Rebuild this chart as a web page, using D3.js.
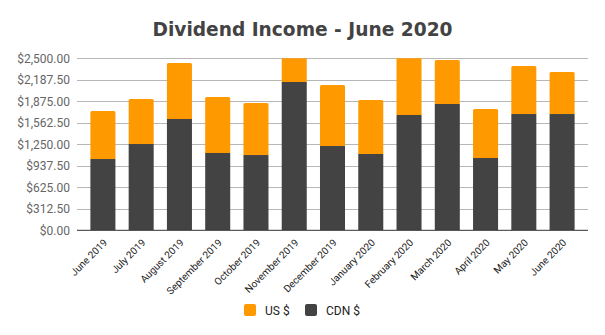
<!DOCTYPE html>
<html><head><meta charset="utf-8">
<script src="https://cdn.jsdelivr.net/npm/d3@7"></script>
<style>body{margin:0;background:#fff}svg{display:block}</style>
</head><body>
<svg id="c" width="605" height="335"></svg>
<script>
const categories = ["June 2019","July 2019","August 2019","September 2019","October 2019","November 2019","December 2019","January 2020","February 2020","March 2020","April 2020","May 2020","June 2020"];
const cdnValues = [1036,1254,1618,1124,1094,2156,1225,1109,1676,1836,1051,1690,1690];
const usValues  = [698,654,814,813,756,500,887,785,900,639,712,698,611];
const yTicks = [0,312.5,625,937.5,1250,1562.5,1875,2187.5,2500];
const seriesNames = ["US $","CDN $"];
const colors = {us:"#ff9900", cdn:"#434343"};

const svg = d3.select("#c");
const m = {l:77, r:588, t:58.3, b:230.3};

const x = d3.scaleBand().domain(categories).range([m.l, m.r]).paddingInner(0.346).paddingOuter(0.35);
const y = d3.scaleLinear().domain([0,2500]).range([m.b, m.t]);

svg.append("text").attr("x",302.5).attr("y",36).attr("text-anchor","middle")
  .attr("font-family","Verdana, 'DejaVu Sans', sans-serif").attr("font-weight","bold")
  .attr("font-size",18.6).attr("fill","#434343").text("Dividend Income - June 2020");

// gridlines
svg.append("g").selectAll("line").data(yTicks.filter(d=>d>0)).join("line")
  .attr("x1",m.l).attr("x2",m.r).attr("y1",d=>Math.round(y(d))+0.5).attr("y2",d=>Math.round(y(d))+0.5)
  .attr("stroke","#b7b7b7").attr("stroke-width",1);

const fmt = d3.format("$,.2f");
const yAxis = svg.append("g").attr("transform",`translate(${m.l},0)`)
  .call(d3.axisLeft(y).tickValues(yTicks).tickFormat(fmt).tickSize(0).tickPadding(7));
yAxis.select(".domain").remove();
yAxis.selectAll("text").attr("font-family","Roboto, sans-serif").attr("font-size",12).attr("fill","#666");

svg.append("defs").append("clipPath").attr("id","clip").append("rect")
  .attr("x",m.l).attr("y",m.t).attr("width",m.r-m.l).attr("height",m.b-m.t);

const data = categories.map((c,i)=>({c, cdn:cdnValues[i], us:usValues[i]}));
const bars = svg.append("g").attr("clip-path","url(#clip)");
const bw = x.bandwidth();
function topRounded(x0,y0,w,h,r){
  return `M${x0},${y0+h}V${y0+r}Q${x0},${y0} ${x0+r},${y0}H${x0+w-r}Q${x0+w},${y0} ${x0+w},${y0+r}V${y0+h}Z`;
}
bars.selectAll("path.us").data(data).join("path").attr("class","us")
  .attr("d",d=>{const y0=y(d.cdn+d.us), y1=y(d.cdn); return topRounded(x(d.c),y0,bw,y1-y0,1.5);})
  .attr("fill",colors.us);
bars.selectAll("rect.cdn").data(data).join("rect").attr("class","cdn")
  .attr("x",d=>x(d.c)).attr("width",bw).attr("y",d=>y(d.cdn)).attr("height",d=>y(0)-y(d.cdn))
  .attr("fill",colors.cdn);

svg.append("line").attr("x1",m.l).attr("x2",m.r).attr("y1",m.b).attr("y2",m.b)
  .attr("stroke","#333").attr("stroke-width",1);

const xAxis = svg.append("g").attr("transform",`translate(0,${m.b})`)
  .call(d3.axisBottom(x).tickSize(0).tickPadding(0));
xAxis.select(".domain").remove();
xAxis.selectAll("text").attr("font-family","Roboto, sans-serif").attr("font-size",10).attr("fill","#222")
  .attr("text-anchor","end").attr("dy",0)
  .attr("transform","translate(5,13) rotate(-45)");

// legend
const lg = svg.append("g");
const items = [{n:seriesNames[0],c:colors.us,x:244},{n:seriesNames[1],c:colors.cdn,x:305}];
lg.selectAll("rect").data(items).join("rect").attr("x",d=>d.x).attr("y",304).attr("width",12).attr("height",12)
  .attr("rx",2).attr("fill",d=>d.c);
lg.selectAll("text").data(items).join("text").attr("x",d=>d.x+21).attr("y",314.5)
  .attr("font-family","Roboto, sans-serif").attr("font-size",12).attr("fill","#222").text(d=>d.n);
</script>
</body></html>
